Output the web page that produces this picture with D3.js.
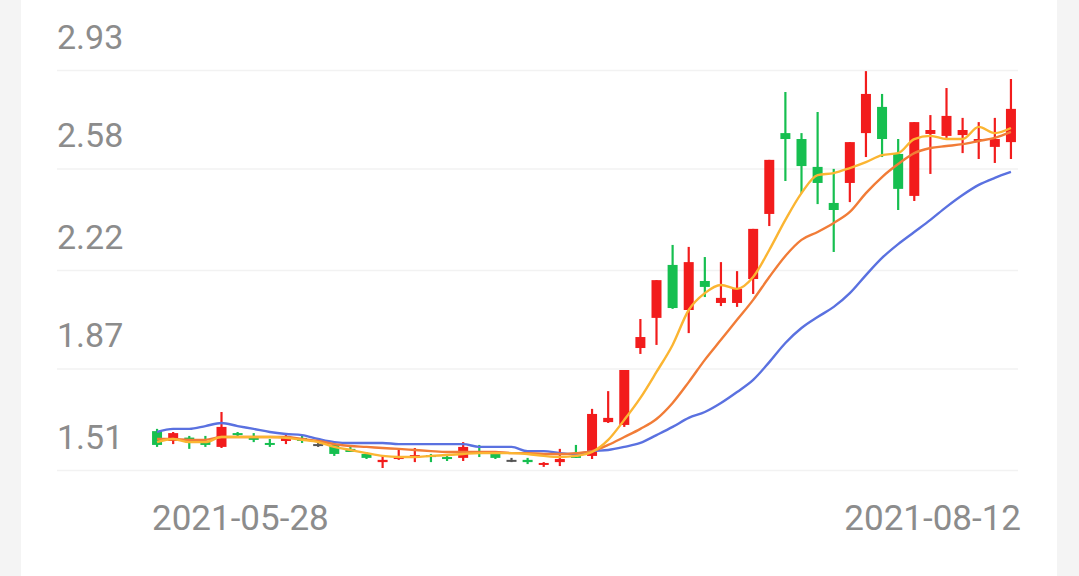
<!DOCTYPE html>
<html>
<head>
<meta charset="utf-8">
<script src="https://cdn.jsdelivr.net/npm/d3@7"></script>
<style>
  html, body { margin: 0; padding: 0; background: #f4f4f4; }
  svg { display: block; }
  text { font-family: Roboto, "Noto Sans", sans-serif; }
</style>
</head>
<body>
<svg id="chart" width="1079" height="576"></svg>
<script>
// ---- data ----
const dates = [
  "2021-05-28","2021-05-31",
  "2021-06-01","2021-06-02","2021-06-03","2021-06-04",
  "2021-06-07","2021-06-08","2021-06-09","2021-06-10","2021-06-11",
  "2021-06-15","2021-06-16","2021-06-17","2021-06-18",
  "2021-06-21","2021-06-22","2021-06-23","2021-06-24","2021-06-25",
  "2021-06-28","2021-06-29","2021-06-30",
  "2021-07-01","2021-07-02",
  "2021-07-05","2021-07-06","2021-07-07","2021-07-08","2021-07-09",
  "2021-07-12","2021-07-13","2021-07-14","2021-07-15","2021-07-16",
  "2021-07-19","2021-07-20","2021-07-21","2021-07-22","2021-07-23",
  "2021-07-26","2021-07-27","2021-07-28","2021-07-29","2021-07-30",
  "2021-08-02","2021-08-03","2021-08-04","2021-08-05","2021-08-06",
  "2021-08-09","2021-08-10","2021-08-11","2021-08-12"
];
const open = [1.648,1.613,1.625,1.613,1.592,1.641,1.624,1.606,1.613,1.624,
  1.602,1.599,1.585,1.567,1.538,1.549,1.553,1.563,1.556,1.553,
  1.574,1.574,1.546,1.546,1.528,1.538,1.560,1.560,1.680,1.670,
  1.943,2.050,2.238,2.078,2.181,2.103,2.103,2.188,2.419,2.706,
  2.685,2.586,2.458,2.529,2.706,2.799,2.632,2.483,2.703,2.696,
  2.699,2.678,2.657,2.674];
const high = [1.656,1.645,1.631,1.631,1.716,1.645,1.641,1.620,1.638,1.631,
  1.609,1.606,1.595,1.574,1.560,1.581,1.588,1.567,1.560,1.609,
  1.599,1.577,1.553,1.553,1.538,1.585,1.599,1.727,1.790,1.865,
  2.046,2.184,2.309,2.302,2.266,2.248,2.216,2.366,2.611,2.852,
  2.706,2.781,2.579,2.674,2.926,2.845,2.685,2.745,2.770,2.866,
  2.760,2.745,2.760,2.898];
const low = [1.592,1.602,1.585,1.592,1.588,1.627,1.609,1.592,1.602,1.606,
  1.592,1.560,1.574,1.549,1.517,1.546,1.538,1.538,1.542,1.542,
  1.556,1.549,1.538,1.531,1.521,1.524,1.553,1.549,1.677,1.663,
  1.922,1.954,2.082,1.996,2.124,2.092,2.089,2.135,2.376,2.536,
  2.493,2.454,2.284,2.461,2.621,2.621,2.433,2.465,2.561,2.689,
  2.635,2.614,2.600,2.614];
const close = [1.599,1.641,1.622,1.599,1.663,1.634,1.620,1.602,1.627,1.613,
  1.602,1.567,1.574,1.553,1.546,1.556,1.563,1.556,1.549,1.592,
  1.570,1.553,1.546,1.538,1.535,1.549,1.556,1.709,1.695,1.865,
  1.982,2.184,2.085,2.248,2.160,2.121,2.153,2.366,2.611,2.685,
  2.589,2.529,2.433,2.674,2.845,2.685,2.508,2.745,2.717,2.767,
  2.717,2.685,2.685,2.792];
const ma5 = [1.609,1.620,1.609,1.609,1.627,1.627,1.627,1.627,1.624,1.617,
  1.609,1.592,1.581,1.570,1.560,1.556,1.556,1.560,1.563,1.567,
  1.570,1.570,1.570,1.567,1.560,1.556,1.560,1.574,1.617,1.688,
  1.766,1.858,1.954,2.078,2.138,2.167,2.153,2.195,2.291,2.398,
  2.493,2.557,2.564,2.582,2.603,2.628,2.635,2.685,2.696,2.685,
  2.685,2.728,2.706,2.724];
const ma10 = [1.620,1.620,1.617,1.617,1.627,1.627,1.627,1.627,1.627,1.620,
  1.613,1.602,1.595,1.592,1.588,1.585,1.581,1.577,1.574,1.574,
  1.574,1.574,1.570,1.570,1.567,1.567,1.570,1.577,1.599,1.627,
  1.656,1.691,1.748,1.822,1.901,1.972,2.043,2.114,2.195,2.270,
  2.327,2.355,2.387,2.426,2.493,2.550,2.596,2.635,2.653,2.660,
  2.667,2.678,2.689,2.710];
const ma20 = [1.645,1.656,1.656,1.666,1.677,1.666,1.656,1.645,1.638,1.634,
  1.620,1.609,1.606,1.606,1.606,1.602,1.602,1.602,1.602,1.602,
  1.592,1.592,1.592,1.577,1.577,1.570,1.567,1.577,1.581,1.592,
  1.606,1.634,1.663,1.695,1.716,1.748,1.787,1.830,1.893,1.961,
  2.014,2.053,2.089,2.138,2.202,2.263,2.312,2.355,2.398,2.444,
  2.486,2.522,2.547,2.568];
const yTicks = [1.51, 1.87, 2.22, 2.58, 2.93];
const yTickLabels = ["1.51", "1.87", "2.22", "2.58", "2.93"];
const xTickLabels = [dates[0], dates[dates.length - 1]];

// ---- styles ----
const COLORS = { up: "#f21c1c", down: "#16bf50", flat: "#555555",
  ma5: "#fbb532", ma10: "#f17c37", ma20: "#5a71e0",
  grid: "#f2f2f2", text: "#8c8c8c" };

const svg = d3.select("#chart");
svg.append("rect").attr("x", 21).attr("y", 0).attr("width", 1036).attr("height", 576).attr("fill", "#ffffff");

const x = d3.scaleBand().domain(dates).range([149, 1019]).padding(0);
const y = d3.scaleLinear().domain([1.51, 2.93]).range([470, 70]);

// grid + y labels
const yAxis = svg.append("g").attr("transform", "translate(57,0)")
  .call(d3.axisRight(y).tickValues(yTicks).tickSize(961)
    .tickFormat((d, i) => yTickLabels[i]));
yAxis.select(".domain").remove();
yAxis.selectAll(".tick line").attr("stroke", COLORS.grid).attr("stroke-width", 1.5);
yAxis.selectAll(".tick text")
  .attr("x", 0).attr("dy", -22).attr("text-anchor", "start")
  .attr("fill", COLORS.text).style("font-size", "34px");

// x labels
const xAxis = svg.append("g").attr("transform", "translate(0,530)")
  .call(d3.axisBottom(x).tickValues(xTickLabels).tickSize(0));
xAxis.select(".domain").remove();
xAxis.selectAll(".tick text")
  .attr("y", 0).attr("dy", 0)
  .attr("text-anchor", (d, i) => i === 0 ? "start" : "end")
  .attr("x", (d, i) => i === 0 ? -x.bandwidth() / 2 + 3 : x.bandwidth() / 2 + 2)
  .attr("fill", COLORS.text).style("font-size", "35px");

// candles
const rows = dates.map((d, i) => ({ d, o: open[i], h: high[i], l: low[i], c: close[i] }));
const col = r => r.c > r.o ? COLORS.up : (r.c < r.o ? COLORS.down : COLORS.flat);
const bw = 10;
const cg = svg.append("g");
cg.selectAll("line.wick").data(rows).join("line")
  .attr("x1", r => x(r.d) + x.bandwidth() / 2).attr("x2", r => x(r.d) + x.bandwidth() / 2)
  .attr("y1", r => y(r.h)).attr("y2", r => y(r.l))
  .attr("stroke", col).attr("stroke-width", 2.2);
cg.selectAll("rect.body").data(rows).join("rect")
  .attr("x", r => x(r.d) + x.bandwidth() / 2 - bw / 2)
  .attr("width", bw)
  .attr("y", r => y(Math.max(r.o, r.c)))
  .attr("height", r => Math.max(2, Math.abs(y(r.o) - y(r.c))))
  .attr("fill", col);

// moving averages
const line = d3.line().x((v, i) => x(dates[i]) + x.bandwidth() / 2).y(v => y(v)).curve(d3.curveMonotoneX);
[[ma20, COLORS.ma20], [ma10, COLORS.ma10], [ma5, COLORS.ma5]].forEach(([arr, c]) => {
  svg.append("path").datum(arr).attr("d", line)
    .attr("fill", "none").attr("stroke", c).attr("stroke-width", 2.4)
    .attr("stroke-linejoin", "round");
});
</script>
</body>
</html>
